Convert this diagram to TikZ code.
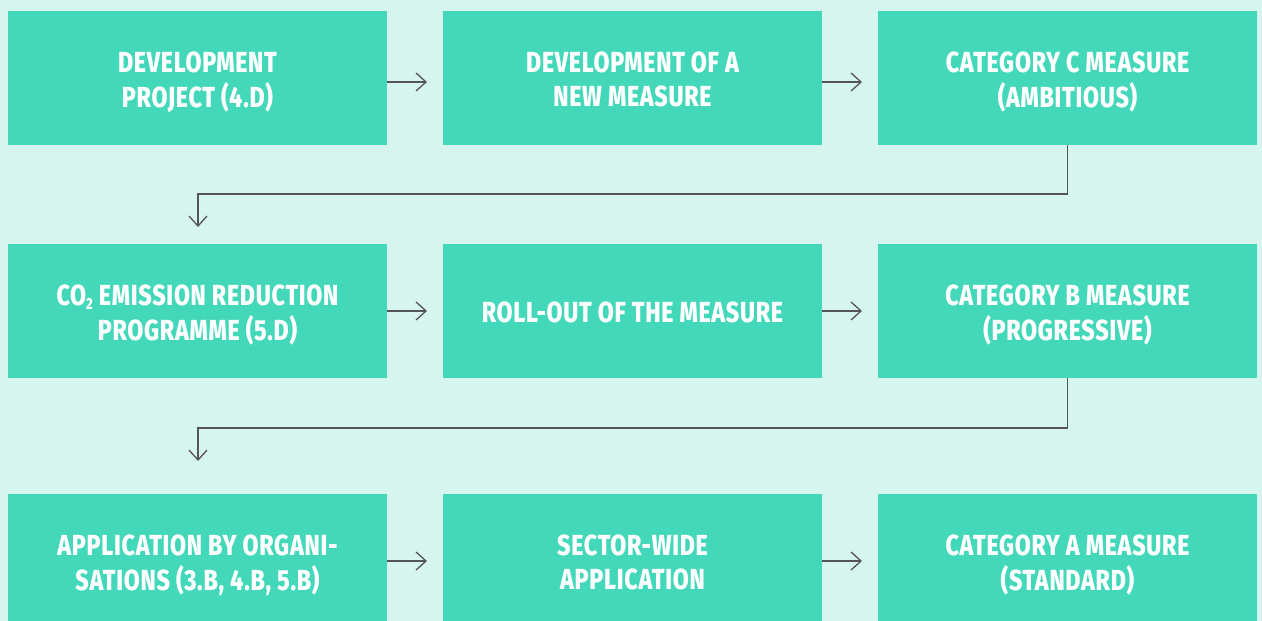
\documentclass[tikz,border=0pt]{standalone}
\usepackage{fontspec}
\setmainfont{Fira Sans}[FakeStretch=0.8, BoldFont={Fira Sans ExtraBold}, BoldFeatures={FakeStretch=0.8, LetterSpace=2.5}]
\usetikzlibrary{arrows.meta}
\definecolor{bgmint}{HTML}{D7F5EF}
\definecolor{boxteal}{HTML}{42D8B9}
\definecolor{arrgrey}{HTML}{555555}
\tikzset{
  stepbox/.style={fill=boxteal, draw=none, minimum width=379pt, minimum height=134pt, inner sep=0pt,
    text=white, font=\fontsize{29}{34}\selectfont\bfseries},
  flow/.style={draw=arrgrey, line width=1.3pt, -{Straight Barb[length=10pt,width=18pt,line width=1.3pt]}}
}
\newcommand{\subtwo}{\raisebox{-4pt}{\fontsize{16}{16}\selectfont 2}}
\newcommand{\btext}[1]{\raisebox{-5pt}[\height][\depth]{\begin{tabular}{@{}c@{}}#1\end{tabular}}}
\begin{document}
\begin{tikzpicture}[x=1pt,y=-1pt]
\useasboundingbox (0,0) rectangle (1262,621);
\clip (0,0) rectangle (1262,621);
\fill[bgmint] (0,0) rectangle (1262,621);
% row 1
\node[stepbox] (b1) at (197.5,78) {\btext{DEVELOPMENT\\PROJECT (4.D)}};
\node[stepbox] (b2) at (632.5,78) {\btext{DEVELOPMENT OF A\\NEW MEASURE}};
\node[stepbox] (b3) at (1067.5,78) {\btext{CATEGORY C MEASURE\\(AMBITIOUS)}};
% row 2
\node[stepbox] (b4) at (197.5,311) {\btext{CO\subtwo{} EMISSION REDUCTION\\PROGRAMME (5.D)}};
\node[stepbox] (b5) at (632.5,311) {\btext{ROLL-OUT OF THE MEASURE}};
\node[stepbox] (b6) at (1067.5,311) {\btext{CATEGORY B MEASURE\\(PROGRESSIVE)}};
% row 3
\node[stepbox] (b7) at (197.5,561) {\btext{APPLICATION BY ORGANI-\\SATIONS (3.B, 4.B, 5.B)}};
\node[stepbox] (b8) at (632.5,561) {\btext{SECTOR-WIDE\\APPLICATION}};
\node[stepbox] (b9) at (1067.5,561) {\btext{CATEGORY A MEASURE\\(STANDARD)}};
% arrow ends
\coordinate (e12) at (427,82);
\coordinate (e23) at (862,82);
\coordinate (e45) at (427,311);
\coordinate (e56) at (862,311);
\coordinate (e78) at (427,561);
\coordinate (e89) at (862,561);
\coordinate (e34) at (198,227);
\coordinate (e67) at (198,461);
\draw[flow] (b1.east |- e12) -- (e12);
\draw[flow] (b2.east |- e23) -- (e23);
\draw[flow] (b4.east |- e45) -- (e45);
\draw[flow] (b5.east |- e56) -- (e56);
\draw[flow] (b7.east |- e78) -- (e78);
\draw[flow] (b8.east |- e89) -- (e89);
\draw[flow] (b3.south) -- (1067.5,194) -- (198,194) -- (e34);
\draw[flow] (b6.south) -- (1067.5,428) -- (198,428) -- (e67);
\end{tikzpicture}
\end{document}
